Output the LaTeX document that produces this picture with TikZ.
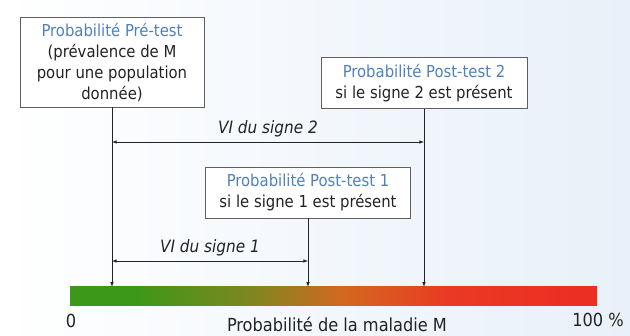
\documentclass[tikz,border=0pt]{standalone}
\usepackage{fontspec}
\setmainfont{DejaVu Sans Condensed}
\usepackage{xcolor}
\usetikzlibrary{arrows,positioning}
\definecolor{titleblue}{RGB}{79,129,189}
\definecolor{textgray}{RGB}{35,35,35}
\definecolor{boxgray}{RGB}{95,95,95}
\definecolor{bgblue}{RGB}{232,240,249}
\definecolor{bargreen}{RGB}{60,152,24}
\definecolor{barolive}{RGB}{125,135,32}
\definecolor{barorange}{RGB}{212,104,32}
\definecolor{barred}{RGB}{234,58,35}
\definecolor{barend}{RGB}{236,45,35}
\pgfdeclarehorizontalshading{riskbar}{100bp}{color(0bp)=(bargreen); color(25bp)=(bargreen); color(31bp)=(bargreen); color(42bp)=(barolive); color(51bp)=(barorange); color(61bp)=(barred); color(75bp)=(barend); color(100bp)=(barend)}

\begin{document}
\begin{tikzpicture}[x=1pt,y=-1pt,
	infobox/.style={draw=boxgray,fill=white,align=center,inner sep=0pt,text=textgray,font=\fontsize{16.5}{21}\selectfont},
	pointer/.style={-latex,draw=textgray,semithick},
	vi/.style={latex-latex,draw=textgray,semithick},
	vilabel/.style={font=\itshape\fontsize{17}{20}\selectfont,text=textgray},
	scalelabel/.style={text=textgray,inner sep=1pt,font=\fontsize{18}{21}\selectfont}]
	\useasboundingbox (0,0) rectangle (630,336);
	\shade[left color=white,right color=bgblue] (0,0) rectangle (630,336);
	% echelle de probabilite
	\node[shading=riskbar,minimum width=527pt,minimum height=19pt,inner sep=0pt] (bar) at (333.5,296.5) {};
	\node[scalelabel] (zero) at (71,321) {0};
	\node[scalelabel] (cent) at (598,320) {100 \%};
	\node[scalelabel] (axis) at (337,324) {Probabilité de la maladie M};
	% encadres
	\node[infobox,minimum width=184pt,minimum height=90pt] (pretest) at (112,62)
		{\textcolor{titleblue}{Probabilité Pré-test}\\(prévalence de M\\pour une population\\donnée)};
	\node[infobox,minimum width=206pt,minimum height=51pt] (post2) at (424,83)
		{\textcolor{titleblue}{Probabilité Post-test 2}\\si le signe 2 est présent};
	\node[infobox,minimum width=205pt,minimum height=51pt] (post1) at (308,192.5)
		{\textcolor{titleblue}{Probabilité Post-test 1}\\si le signe 1 est présent};
	% fleches vers l'echelle
	\draw[pointer] (pretest.south) -- (pretest.south |- bar.north);
	\draw[pointer] (post2.south) -- (post2.south |- bar.north);
	\draw[pointer] (post1.south) -- (post1.south |- bar.north);
	% valeurs informationnelles
	\coordinate (lvl2) at (0,142);
	\coordinate (lvl1) at (0,261);
	\draw[vi] (pretest.south |- lvl2) -- (post2.south |- lvl2) node[midway,above=1pt,vilabel] (vi2) {VI du signe 2};
	\draw[vi] (pretest.south |- lvl1) -- (post1.south |- lvl1) node[midway,above=1pt,vilabel] (vi1) {VI du signe 1};
\end{tikzpicture}
\end{document}
